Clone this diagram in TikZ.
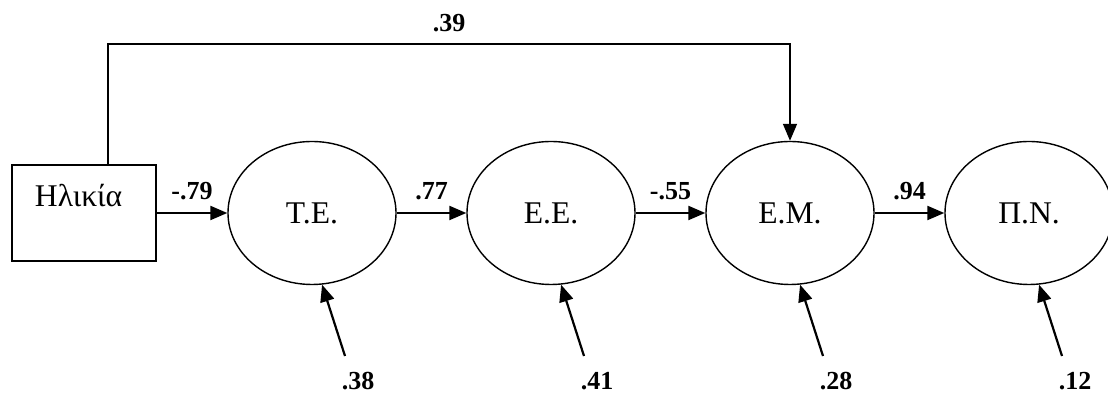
\documentclass[tikz,border=0pt]{standalone}
\usepackage{fontspec}
\setmainfont{Liberation Serif}
\usetikzlibrary{arrows.meta,calc,positioning,shapes}
\tikzset{
    block/.style = {draw, rectangle, line width=0.7pt,
        minimum width=72pt, minimum height=48pt,
        inner xsep=11.5pt, text width=49pt, align=left,
        text height=10pt, text depth=16pt},
    latent/.style = {draw, ellipse, line width=0.7pt,
        minimum width=84pt, minimum height=71.5pt},
    arrow/.style = {draw, ->, line width=1.1pt},
    coef/.style = {font=\bfseries\fontsize{13}{15}\selectfont, inner sep=6pt}
}

\begin{document}
\begin{tikzpicture}[auto, node distance=119.5pt, >={Triangle[length=8.5pt,width=7pt]},
    font=\fontsize{15.8}{18}\selectfont]
        \useasboundingbox (-42pt,-90.5pt) rectangle (512pt,106.5pt);
        \node [block] (age) {Ηλικία};
        \node [latent, right of=age, node distance=114pt] (te) {Τ.Ε.};
        \node [latent, right of=te] (ee) {Ε.Ε.};
        \node [latent, right of=ee] (em) {Ε.Μ.};
        \node [latent, right of=em] (pn) {Π.Ν.};
        \draw [arrow] (age) -- node [coef] {-.79} (te);
        \draw [arrow] (te) -- node [coef] {.77} (ee);
        \draw [arrow] (ee) -- node [coef] {-.55} (em);
        \draw [arrow] (em) -- node [coef] {.94} (pn);
        \draw [->, line width=0.8pt] ([xshift=12pt]age.north) -- ++(0,60pt)
            -| node [coef, pos=0.25, above] {.39} (em.north);
        % residuals
        \coordinate (te-u) at ($(te)+(16.5pt,-71.5pt)$);
        \node [coef] (te-r) at ($(te-u)+(6.5pt,-12.5pt)$) {.38};
        \draw [arrow] (te-u) -- (te.-82);
        \coordinate (ee-u) at ($(ee)+(16.5pt,-71.5pt)$);
        \node [coef] (ee-r) at ($(ee-u)+(6.5pt,-12.5pt)$) {.41};
        \draw [arrow] (ee-u) -- (ee.-82);
        \coordinate (em-u) at ($(em)+(16.5pt,-71.5pt)$);
        \node [coef] (em-r) at ($(em-u)+(6.5pt,-12.5pt)$) {.28};
        \draw [arrow] (em-u) -- (em.-82);
        \coordinate (pn-u) at ($(pn)+(16.5pt,-71.5pt)$);
        \node [coef] (pn-r) at ($(pn-u)+(6.5pt,-12.5pt)$) {.12};
        \draw [arrow] (pn-u) -- (pn.-82);
    \end{tikzpicture}
\end{document}
